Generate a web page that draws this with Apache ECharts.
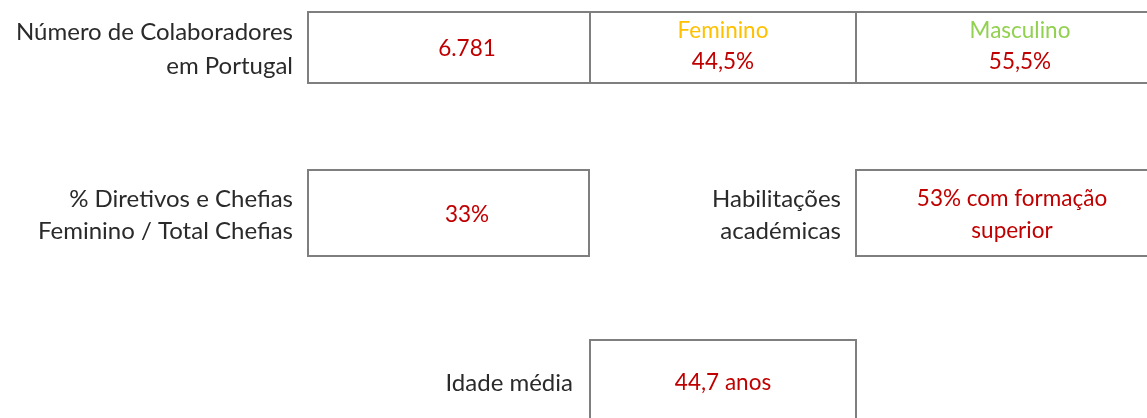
<!DOCTYPE html>
<html>
<head>
<meta charset="utf-8">
<script src="https://cdn.jsdelivr.net/npm/echarts@6/dist/echarts.min.js"></script>
<style>
html,body{margin:0;padding:0;background:#fff;}
#main{width:1147px;height:418px;}
</style>
</head>
<body>
<div id="main"></div>
<script>
// dados
var totalColab = [6781];
var genders = ['Feminino', 'Masculino'];
var genderPct = [44.5, 55.5];
var chefiasPct = [33];
var habilitacoes = ['53% com formação', 'superior'];
var idadeMedia = [44.7];
var labelColab = ['Número de Colaboradores', 'em Portugal'];
var labelChefias = ['% Diretivos e Chefias', 'Feminino / Total Chefias'];
var labelHab = ['Habilitações', 'académicas'];
var labelIdade = ['Idade média'];

var RED = '#C00000', GRAY = '#7f7f7f';
var LABEL_FONT = '24px Lato, "Open Sans", sans-serif';
var VALUE_FONT = '22.5px Lato, "Open Sans", sans-serif';
var genderColors = ['#FFC000', '#92D050'];

function thousands(n){
	return String(n).replace(/\B(?=(\d{3})+(?!\d))/g, '.');
}
function dec(n){
	return String(n).replace('.', ',');
}

function box(x, y, w, h){
	return {type:'rect', shape:{x:x, y:y, width:w, height:h},
		style:{fill:'#fff', stroke:GRAY, lineWidth:2}};
}
function txt(s, x, y, align, color, font){
	return {type:'text', style:{text:s, x:x, y:y, align:align, verticalAlign:'middle',
		fill:color, font:font}};
}
function labelLines(lines, x, yCenter, gap){
	var out = [];
	var y0 = yCenter - (lines.length - 1) * gap / 2;
	for(var i=0;i<lines.length;i++){
		out.push(txt(lines[i], x, y0 + i*gap, 'right', '#2a2a2a', LABEL_FONT));
	}
	return out;
}

var els = [];
// linha 1
els.push(box(308, 12, 282, 71));
els.push(box(590, 12, 266, 71));
els.push(box(856, 12, 310, 71));
els = els.concat(labelLines(labelColab, 293, 49, 34));
els.push(txt(thousands(totalColab[0]), 467, 49, 'center', RED, VALUE_FONT));
var gx = [723, 1020];
for(var i=0;i<genders.length;i++){
	els.push(txt(genders[i], gx[i], 31, 'center', genderColors[i], VALUE_FONT));
	els.push(txt(dec(genderPct[i]) + '%', gx[i], 62, 'center', RED, VALUE_FONT));
}
// linha 2
els.push(box(308, 170, 281, 86));
els.push(box(856, 170, 310, 86));
els = els.concat(labelLines(labelChefias, 293, 215, 32));
els.push(txt(chefiasPct[0] + '%', 467, 215, 'center', RED, VALUE_FONT));
els = els.concat(labelLines(labelHab, 841, 215, 32));
for(var j=0;j<habilitacoes.length;j++){
	els.push(txt(habilitacoes[j], 1012, 199 + j*32, 'center', RED, VALUE_FONT));
}
// linha 3
els.push(box(590, 340, 266, 90));
els = els.concat(labelLines(labelIdade, 573, 383, 32));
els.push(txt(dec(idadeMedia[0]) + ' anos', 723, 383, 'center', RED, VALUE_FONT));

var chart = echarts.init(document.getElementById('main'));
chart.setOption({
	backgroundColor:'#fff',
	animation:false,
	graphic:{elements:els}
});
</script>
</body>
</html>
